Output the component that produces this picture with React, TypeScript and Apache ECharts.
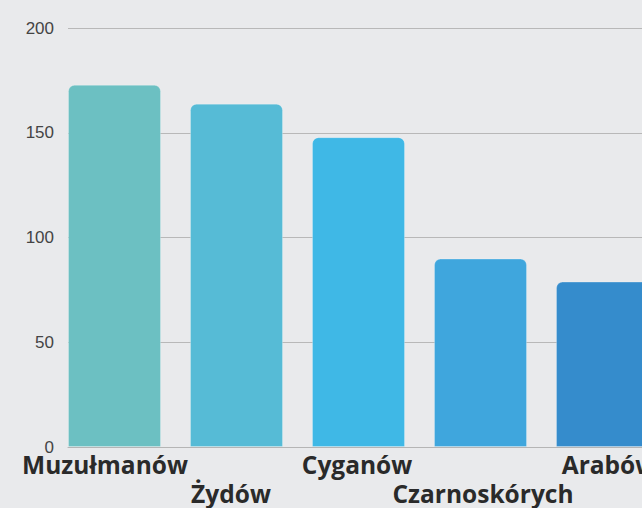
import React, { useEffect, useRef } from "react";
import * as echarts from "echarts";

const categories = ["Muzułmanów", "Żydów", "Cyganów", "Czarnoskórych", "Arabów"];
const values = [173, 164, 148, 90, 79];
const barColors = ["#6cc0c2", "#56bbd6", "#3fb8e6", "#3fa6dd", "#358ccc"];
const yTicks = { min: 0, max: 200, interval: 50 };

export default function App() {
  const ref = useRef<HTMLDivElement>(null);
  useEffect(() => {
    document.body.style.margin = "0";
    document.body.style.overflow = "hidden";
    const chart = echarts.init(ref.current!, undefined, { renderer: "svg" });
    const hiddenY = (gridIndex: number) => ({
      type: "value",
      gridIndex,
      min: yTicks.min,
      max: yTicks.max,
      interval: yTicks.interval,
      axisLine: { show: false },
      axisTick: { show: false },
      axisLabel: { show: false },
      splitLine: { show: false },
    });
    chart.setOption({
      animation: false,
      backgroundColor: "#e9eaec",
      grid: [
        { left: 53.5, right: 16.5, top: 28.3, bottom: 61 },
        { left: 68, right: 0, top: 28.3, bottom: 61 },
        { left: 42, right: 8, top: 28.3, bottom: 61 },
      ],
      xAxis: [
        {
          type: "category",
          gridIndex: 0,
          data: categories,
          axisLine: { show: false },
          axisTick: { show: false },
          axisLabel: { show: false },
        },
        {
          type: "value",
          gridIndex: 1,
          min: 0,
          max: 1,
          axisLine: { show: true, lineStyle: { color: "#b5b5b5", width: 1 } },
          axisTick: { show: false },
          axisLabel: { show: false },
          splitLine: { show: false },
        },
        {
          type: "category",
          gridIndex: 2,
          data: categories,
          axisLine: { show: false },
          axisTick: { show: false },
          axisLabel: {
            interval: 0,
            margin: 4,
            color: "#2a2a2a",
            fontFamily: "Open Sans",
            fontWeight: "bold",
            fontSize: 24.5,
            lineHeight: 29,
            formatter: (v: string, i: number) => (i % 2 ? "\n" + v : v),
          },
        },
      ],
      yAxis: [
        hiddenY(0),
        {
          type: "value",
          gridIndex: 1,
          min: yTicks.min,
          max: yTicks.max,
          interval: yTicks.interval,
          axisLine: { show: false },
          axisTick: { show: false },
          axisLabel: {
            margin: 14,
            color: "#444",
            fontFamily: "Liberation Sans, Arial, sans-serif",
            fontSize: 17,
          },
          splitLine: { show: true, lineStyle: { color: "#b8b8b8", width: 1 } },
        },
        hiddenY(2),
      ],
      series: [
        {
          type: "bar",
          xAxisIndex: 0,
          yAxisIndex: 0,
          barWidth: 93,
          data: values.map((v, i) => ({
            value: v,
            itemStyle: {
              color: barColors[i],
              borderRadius: [6, 6, 0, 0],
              borderColor: "rgba(255,255,255,0.25)",
              borderWidth: 1,
            },
          })),
        },
      ],
    });
    return () => chart.dispose();
  }, []);
  return (
    <div style={{ position: "fixed", left: 0, top: 0, width: 642, height: 508, overflow: "hidden" }}>
      <div ref={ref} style={{ width: 680, height: 508 }} />
    </div>
  );
}
